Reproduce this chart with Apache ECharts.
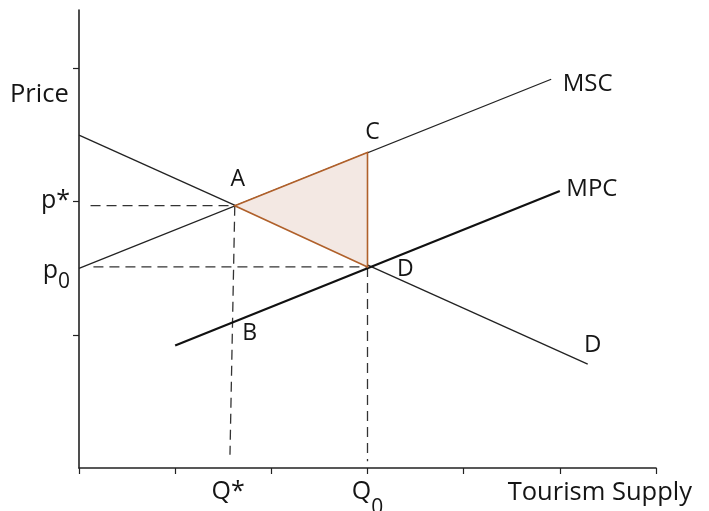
<!DOCTYPE html>
<html><head><meta charset="utf-8">
<script src="https://cdn.jsdelivr.net/npm/echarts@6/dist/echarts.min.js"></script>
<style>html,body{margin:0;padding:0;background:#fff}#c{width:709px;height:511px}</style>
</head><body><div id="c"></div>
<script>
// ---- data ----
const xTickValues = [0, 1, 2, 3, 4, 5, 6];
const yTickValues = [1, 2, 3];
const xLabelValues = [1.55, 3.0];
const xLabelTexts = ['Q*', 'Q0'];
const yLabelValues = [1.46, 1.99];
const yLabelTexts = ['p0', 'p*'];
const demandX = [0, 5.29];
const demandY = [2.50, 0.78];
const mscX = [0, 4.91];
const mscY = [1.50, 2.92];
const mpcX = [1.0, 5.0];
const mpcY = [0.92, 2.08];
const pointNames = ['A', 'B', 'C', 'D'];
const pointX = [1.62, 1.61, 3.0, 3.0];
const pointY = [1.97, 1.09, 2.37, 1.51];
const qStarLineX = [1.62, 1.57];
const qStarLineY = [1.97, 0.10];
const q0LineX = [3.0, 3.0];
const q0LineY = [1.51, 0.05];
const pStarLineX = [0.12, 1.62];
const pStarLineY = [1.97, 1.97];
const p0LineX = [0.15, 3.0];
const p0LineY = [1.51, 1.51];
const triangleX = [1.62, 3.0, 3.0];
const triangleY = [1.97, 2.37, 1.51];
const curveNames = ['MSC', 'MPC', 'D'];
const xTitle = 'Tourism Supply';
const yTitle = 'Price';

// ---- helpers ----
const zip = (xs, ys) => xs.map((x, i) => [x, ys[i]]);
const FONT = 'Open Sans';
const TXT = '#151515';
function richSub(subPad) {
  return {
    m: {fontSize: 25, fontFamily: FONT, color: TXT, verticalAlign: 'top', lineHeight: 30},
    s: {fontSize: 21, fontFamily: FONT, color: TXT, verticalAlign: 'top', padding: [subPad, 0, 0, 0], lineHeight: 30}
  };
}
function subText(t) {
  if (t.length === 2 && t[1] === '0') return '{m|' + t[0] + '}{s|0}';
  return '{m|' + t + '}';
}
function dashed(xs, ys) {
  return {type: 'line', data: zip(xs, ys), symbol: 'none', silent: true, z: 2,
    lineStyle: {color: '#333', width: 1.3, type: [10, 6]}};
}
function solid(xs, ys, w, c) {
  return {type: 'line', data: zip(xs, ys), symbol: 'none', silent: true, z: 3,
    lineStyle: {color: c, width: w}};
}

const pointLabelCfg = [
  {position: 'top', distance: 14, offset: [3, 0]},
  {position: 'right', distance: 8, offset: [0, 11]},
  {position: 'top', distance: 8, offset: [5, 0]},
  {position: 'right', distance: 28, offset: [1, 2]}
];
const curveEnds = [[mscX[1], mscY[1]], [mpcX[1], mpcY[1]], [demandX[1], demandY[1]]];
const curveLabelCfg = [
  {position: 'right', distance: 11, offset: [0, 5]},
  {position: 'right', distance: 6, offset: [0, -2]},
  {position: 'top', distance: 6, offset: [5, 0]}
];
const labelData = pointNames.map((n, i) => ({
  value: [pointX[i], pointY[i]],
  label: Object.assign({show: true, formatter: n, fontSize: 23}, pointLabelCfg[i])
})).concat(curveNames.map((n, i) => ({
  value: curveEnds[i],
  label: Object.assign({show: true, formatter: n, fontSize: 24}, curveLabelCfg[i])
})));

const chart = echarts.init(document.getElementById('c'), null, {renderer: 'canvas'});
chart.setOption({
  animation: false,
  backgroundColor: '#fff',
  grid: {left: 79, right: 53, top: 10, bottom: 43, containLabel: false, outerBoundsMode: 'none'},
  xAxis: {
    type: 'value', min: 0, max: 6, interval: 1,
    axisLine: {show: true, onZero: false, lineStyle: {color: '#222', width: 1.6}},
    axisTick: {show: true, length: 6, customValues: xTickValues, lineStyle: {color: '#222', width: 1.2}},
    splitLine: {show: false},
    axisLabel: {
      show: true, customValues: xLabelValues, margin: 11,
      formatter: (v, i) => subText(xLabelTexts[xLabelValues.indexOf(v)]),
      rich: richSub(19)
    }
  },
  yAxis: {
    type: 'value', min: 0, max: 3.44, interval: 1,
    axisLine: {show: true, onZero: false, lineStyle: {color: '#222', width: 1.6}},
    axisTick: {show: true, length: 6, customValues: yTickValues, lineStyle: {color: '#222', width: 1.2}},
    splitLine: {show: false},
    axisLabel: {
      show: true, customValues: yLabelValues, margin: 9,
      formatter: (v, i) => subText(yLabelTexts[yLabelValues.indexOf(v)]),
      rich: richSub(13)
    }
  },
  graphic: [
    {type: 'text', left: 10, top: 82, style: {text: yTitle, font: '25.5px "Open Sans"', fill: TXT}},
    {type: 'text', right: 17, top: 480, style: {text: xTitle, font: '25.5px "Open Sans"', fill: TXT}}
  ],
  series: [
    dashed(pStarLineX, pStarLineY),
    dashed(p0LineX, p0LineY),
    dashed(qStarLineX, qStarLineY),
    dashed(q0LineX, q0LineY),
    solid(demandX, demandY, 1.3, '#222'),
    solid(mscX, mscY, 1.3, '#222'),
    solid(mpcX, mpcY, 2.2, '#111'),
    {
      type: 'custom', silent: true, z: 4,
      data: [0],
      renderItem: (params, api) => {
        const pts = triangleX.map((x, i) => api.coord([x, triangleY[i]]));
        return {type: 'polygon', shape: {points: pts},
          style: {fill: '#f3e8e3', stroke: '#b0602a', lineWidth: 1.6}};
      }
    },
    {
      type: 'scatter', data: labelData, symbolSize: 1, silent: true, z: 5,
      itemStyle: {color: 'rgba(0,0,0,0)', opacity: 1},
      label: {show: true, fontFamily: FONT, color: TXT}
    }
  ]
});
</script></body></html>
